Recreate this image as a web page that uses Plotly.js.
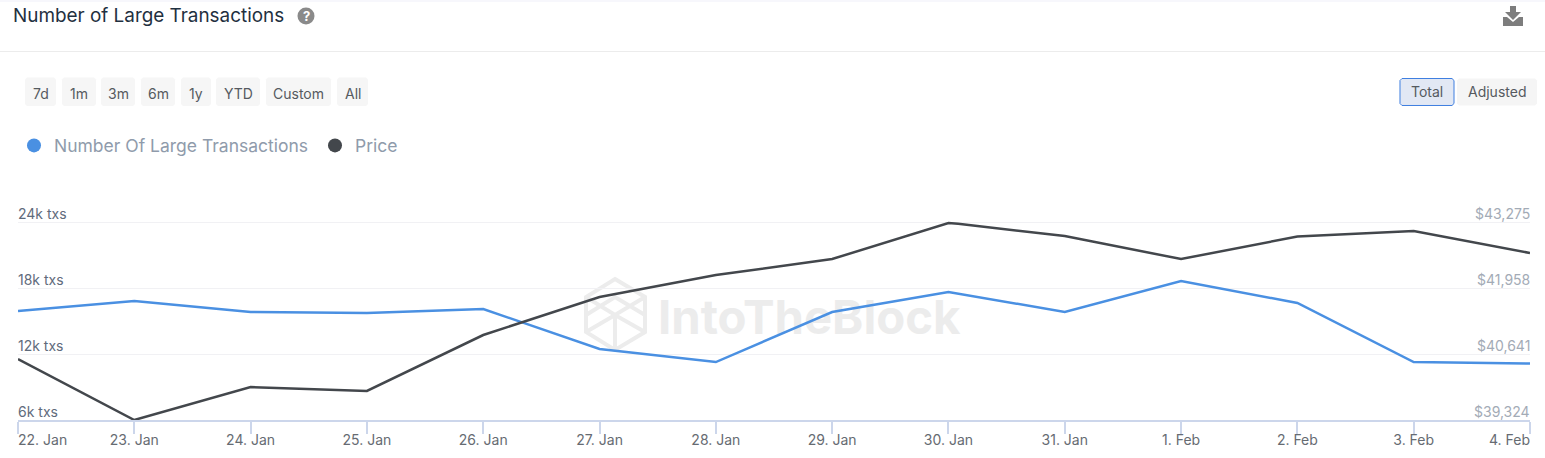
<!DOCTYPE html>
<html><head><meta charset="utf-8">
<script src="https://cdn.plot.ly/plotly-3.0.1.min.js"></script>
<style>html,body{margin:0;padding:0;background:#fff;overflow:hidden}#c{width:1545px;height:458px}</style>
</head><body><div id="c"></div>
<script>
const txDates = ["2024-01-22","2024-01-23","2024-01-24","2024-01-25","2024-01-26","2024-01-27","2024-01-28","2024-01-29","2024-01-30","2024-01-31","2024-02-01","2024-02-02","2024-02-03","2024-02-04"];
const txValues = [15910,16820,15820,15730,16090,12450,11270,15820,17640,15820,18640,16640,11270,11140];
const priceDates = ["2024-01-22","2024-01-23","2024-01-24","2024-01-25","2024-01-26","2024-01-27","2024-01-28","2024-01-29","2024-01-30","2024-01-30 02:00","2024-01-31","2024-02-01","2024-02-02","2024-02-03","2024-02-04"];
const priceValues = [40541,39324,39982,39903,41020,41778,42217,42536,43254,43240,42995,42536,42985,43095,42656];
const xLabels = ["22. Jan","23. Jan","24. Jan","25. Jan","26. Jan","27. Jan","28. Jan","29. Jan","30. Jan","31. Jan","1. Feb","2. Feb","3. Feb","4. Feb"];
const leftTicks = [6000,12000,18000,24000];
const leftLabels = ["6k txs","12k txs","18k txs","24k txs"];
const rightTicks = [39324,40641,41958,43275];
const rightLabels = ["$39,324","$40,641","$41,958","$43,275"];
const rangeButtons = [["7d",25,56],["1m",62,96],["3m",101,135],["6m",141,175],["1y",181,211],["YTD",216,260],["Custom",266,331],["All",337,368]];
const modeButtons = [["Total",1400,1454],["Adjusted",1457,1537]];

const FONT = "Inter, 'Noto Sans', sans-serif";
const L = 18, R = 1530, T = 200, B = 420;
const px = x => (x - L) / (R - L);
const py = y => (B - y) / (B - T);
const P = (x, y) => px(x).toFixed(5) + "," + py(y).toFixed(5);
const poly = pts => "M" + pts.map(p => P(p[0], p[1])).join("L") + "Z";
function rrect(x0, y0, x1, y1, r) {
  return poly([[x0+r,y0],[x1-r,y0],[x1,y0+r],[x1,y1-r],[x1-r,y1],[x0+r,y1],[x0,y1-r],[x0,y0+r]]);
}
const shape = (path, fill, line, layer) => ({type:"path", xref:"paper", yref:"paper", path, fillcolor:fill,
  line: line ? {color:line, width:1} : {width:0}, layer: layer || "below"});
const note = (text, x, y, size, color, anchor, extra) => Object.assign({
  text, xref:"paper", yref:"paper", x:px(x), y:py(y), xanchor:anchor||"center", yanchor:"middle",
  showarrow:false, font:{family:FONT, size, color}}, extra||{});

const shapes = [], annotations = [];
// page chrome
shapes.push({type:"rect", xref:"paper", yref:"paper", x0:px(0), x1:px(1545), y0:py(0), y1:py(2), fillcolor:"#f7f7fc", line:{width:0}, layer:"below"});
shapes.push({type:"line", xref:"paper", yref:"paper", x0:px(0), x1:px(1545), y0:py(51.5), y1:py(51.5), line:{color:"#ececec", width:1}, layer:"below"});
annotations.push(note("Number of Large Transactions", 13, 15.5, 18.9, "#1f3040", "left", {xshift:-2}));
// help icon
shapes.push({type:"circle", xref:"paper", yref:"paper", x0:px(297.5), x1:px(314.5), y0:py(7.5), y1:py(24.5), fillcolor:"#8a8a8a", line:{width:0}, layer:"below"});
annotations.push(note("<b>?</b>", 306, 16, 13, "#ffffff"));
// download icon
shapes.push(shape(poly([[1510,6],[1516,6],[1516,12],[1521,12],[1513,20],[1505,12],[1510,12]]), "#7d7d7d"));
shapes.push(shape(poly([[1503,17],[1507,17],[1513,22],[1519,17],[1523,17],[1523,26],[1503,26]]), "#7d7d7d"));
// buttons
rangeButtons.forEach(b => {
  shapes.push(shape(rrect(b[1],77.5,b[2],106,2), "#f6f6f6"));
  annotations.push(note(b[0], (b[1]+b[2])/2, 93, 14, "#555a60"));
});
modeButtons.forEach((b,i) => {
  shapes.push(shape(rrect(b[1],78.5,b[2],105.5,2), i===0 ? "#e2e8f4" : "#f5f5f5", i===0 ? "#3f7fe0" : null));
  annotations.push(note(b[0], (b[1]+b[2])/2, 92, 14, "#555a60"));
});
// watermark (shape layer, under the lines)
const hex = [[615,279],[645,297],[645,332],[615,350],[586,332],[586,297]];
shapes.push({type:"path", xref:"paper", yref:"paper", layer:"below", fillcolor:"rgba(0,0,0,0)", line:{color:"#ececec", width:4},
  path: poly(hex) + "M"+P(586,297)+"L"+P(615,315)+"L"+P(645,297)+"M"+P(615,315)+"L"+P(615,350)+"M"+P(586,315)+"L"+P(615,297)+"L"+P(645,315)+"M"+P(586,332)+"L"+P(615,315)+"L"+P(645,332)});
shapes.push({type:"rect", xref:"paper", yref:"paper", layer:"below", x0:px(655), x1:px(965), y0:py(340), y1:py(290),
  fillcolor:"rgba(0,0,0,0)", line:{width:0},
  label:{text:"<b>IntoTheBlock</b>", font:{family:FONT,size:47.3,color:"#ececec"}, textposition:"middle left", padding:0}});
// x labels at the ends sit inside the plot edges
annotations.push(note(xLabels[0], 18, 439, 14, "#666b72", "left", {xshift:-2}));
annotations.push(note(xLabels[xLabels.length-1], 1530, 439, 14, "#666b72", "right", {xshift:2}));
// y labels sit just above their gridlines, inside the plot edges
leftTicks.forEach((v,i) => annotations.push({text:leftLabels[i], xref:"paper", yref:"y", x:0, y:v, yshift:8.5, xanchor:"left", yanchor:"middle", xshift:-2,
  showarrow:false, font:{family:FONT,size:14,color:"#5f6b7c"}}));
rightTicks.forEach((v,i) => annotations.push({text:rightLabels[i], xref:"paper", yref:"y2", x:1, y:v, yshift:8.5, xanchor:"right", yanchor:"middle", xshift:2,
  showarrow:false, font:{family:FONT,size:14,color:"#a3abb6"}}));

const traces = [
  {x:txDates, y:txValues, type:"scatter", mode:"lines", name:"Number Of Large Transactions", showlegend:false, cliponaxis:false, line:{color:"#4a90e2", width:2.5}, yaxis:"y"},
  {x:priceDates, y:priceValues, type:"scatter", mode:"lines", name:"Price", showlegend:false, cliponaxis:false, line:{color:"#43474c", width:2.5}, yaxis:"y2"},
  {x:[null], y:[null], type:"scatter", mode:"markers", name:"Number Of Large Transactions", marker:{color:"#4a90e2", size:14}},
  {x:[null], y:[null], type:"scatter", mode:"markers", name:"Price", marker:{color:"#43474c", size:14}}
];
const layout = {
  width:1545, height:458, margin:{l:L, r:1545-R, t:T, b:458-B},
  paper_bgcolor:"#fff", plot_bgcolor:"rgba(0,0,0,0)", font:{family:FONT},
  xaxis:{type:"date", range:[txDates[0], txDates[txDates.length-1]], tickmode:"array", tickvals:txDates,
    ticktext:xLabels.map((t,i)=> (i===0||i===xLabels.length-1) ? " " : t), ticks:"outside", ticklen:12, tickwidth:1.5, tickcolor:"#ccd6eb", ticklabelstandoff:-6,
    showline:true, linecolor:"#ccd6eb", linewidth:2, showgrid:false, zeroline:false, tickfont:{family:FONT,size:14,color:"#666b72"}},
  yaxis:{range:[6000,26000], tickmode:"array", tickvals:leftTicks, showticklabels:false, ticks:"",
    gridcolor:"#f1f1f4", gridwidth:1, zeroline:false, showline:false},
  yaxis2:{range:[39324,43714], overlaying:"y", side:"right", tickmode:"array", tickvals:rightTicks, showticklabels:false, ticks:"",
    showgrid:false, zeroline:false, showline:false},
  legend:{orientation:"h", x:px(14), y:py(145.5), xanchor:"left", yanchor:"middle", entrywidth:256, entrywidthmode:"pixels", font:{family:FONT,size:17.5,color:"#8f9bab"}, bgcolor:"rgba(0,0,0,0)", itemclick:false, itemdoubleclick:false},
  showlegend:true, shapes, annotations, hovermode:false
};
Plotly.newPlot("c", traces, layout, {displayModeBar:false, responsive:false});
</script></body></html>
